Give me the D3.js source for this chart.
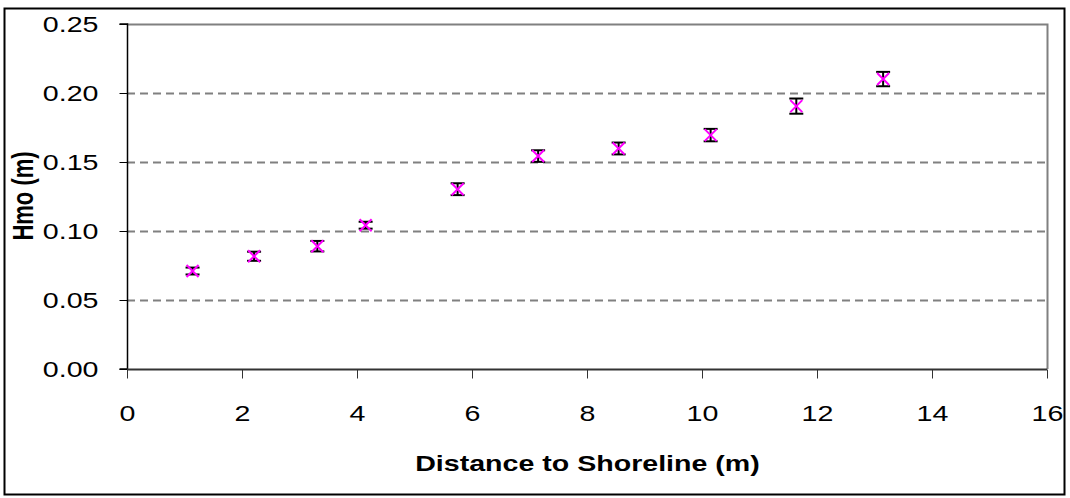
<!DOCTYPE html>
<html>
<head>
<meta charset="utf-8">
<script src="https://cdn.jsdelivr.net/npm/d3@7"></script>
<style>
  html, body { margin: 0; padding: 0; background: #fff; }
  svg { display: block; }
  text { font-family: "Liberation Sans", Arial, sans-serif; fill: #000; }
</style>
</head>
<body>
<svg id="chart" width="1070" height="498"></svg>
<script>
// Data
const distance = [1.14, 2.21, 3.31, 4.15, 5.75, 7.15, 8.55, 10.15, 11.64, 13.15];
const hmo      = [0.071, 0.0817, 0.089, 0.1042, 0.1303, 0.1543, 0.1598, 0.1695, 0.1905, 0.2101];
const hmoErr   = [0.0025, 0.0033, 0.0038, 0.0025, 0.0043, 0.0042, 0.0043, 0.0045, 0.0055, 0.0052];
const xTicks   = [0, 2, 4, 6, 8, 10, 12, 14, 16];
const yTicks   = [0, 0.05, 0.10, 0.15, 0.20, 0.25];
const xTitle = "Distance to Shoreline (m)";
const yTitle = "Hmo (m)";

const svg = d3.select("#chart");
const plot = { left: 127, right: 1047, top: 24, bottom: 369 };
const SX = 1.3;      // horizontal stretch of the text
const FS = 22;

function stretch(sel) {
  sel.each(function () {
    const t = d3.select(this);
    const ax = +t.attr("x") || 0;
    t.attr("transform", `translate(${ax},0) scale(${SX},1) translate(${-ax},0)`);
  });
}

// Outer frame
svg.append("rect").attr("x", 4.5).attr("y", 8.5).attr("width", 1060).attr("height", 486)
  .attr("fill", "#fff").attr("stroke", "#000").attr("stroke-width", 2);

const x = d3.scaleLinear().domain([0, 16]).range([plot.left, plot.right]);
const y = d3.scaleLinear().domain([0, 0.25]).range([plot.bottom, plot.top]);

// Plot area border (gray, top & right)
svg.append("path")
  .attr("d", `M${plot.left},${plot.top + 0.5}H${plot.right + 0.5}V${plot.bottom}`)
  .attr("fill", "none").attr("stroke", "#808080").attr("stroke-width", 2);

// Gridlines
svg.append("g").selectAll("line")
  .data(yTicks.filter(t => t > 0 && t < 0.25))
  .join("line")
  .attr("x1", plot.left).attr("x2", plot.right)
  .attr("y1", d => Math.round(y(d)) + 0.5).attr("y2", d => Math.round(y(d)) + 0.5)
  .attr("stroke", "#808080").attr("stroke-width", 2)
  .attr("stroke-dasharray", "8,5");

// Y axis
const yAxis = d3.axisLeft(y).tickValues(yTicks).tickFormat(d3.format(".2f"))
  .tickSize(8).tickPadding(21);
const gy = svg.append("g").attr("transform", `translate(${plot.left + 0.5},0)`).call(yAxis);
gy.attr("font-family", null).attr("font-size", null);
gy.select(".domain").attr("stroke", "#000").attr("stroke-width", 1.5)
  .attr("d", `M-8,${y(0.25)}H0V${y(0)}H-8`);
gy.selectAll(".tick line").attr("stroke", "#000");
gy.selectAll(".tick text").attr("font-size", FS).call(stretch);

// X axis
const xAxis = d3.axisBottom(x).tickValues(xTicks).tickFormat(d3.format("d"))
  .tickSize(9).tickPadding(30);
const gx = svg.append("g").attr("transform", `translate(0,${plot.bottom + 0.5})`).call(xAxis);
gx.attr("font-family", null).attr("font-size", null);
gx.select(".domain").attr("stroke", "#333").attr("stroke-width", 2)
  .attr("d", `M${plot.left},0H${plot.right}`);
gx.selectAll(".tick line").attr("stroke", "#333");
gx.selectAll(".tick text").attr("font-size", FS).attr("dy", null).attr("y", 51.5).call(stretch);

// Titles
svg.append("text").attr("x", 587.5).attr("y", 471).attr("text-anchor", "middle")
  .attr("font-size", FS).attr("font-weight", "bold").text(xTitle).call(stretch);
svg.append("g").attr("transform", `translate(33,196) scale(${SX},1)`)
  .append("text").attr("transform", "rotate(-90)")
  .attr("text-anchor", "middle").attr("font-size", FS).attr("font-weight", "bold").text(yTitle);

// Data
const pts = distance.map((d, i) => ({ x: d, y: hmo[i], e: hmoErr[i] }));
const gErr = svg.append("g").attr("stroke", "#000").attr("stroke-width", 2).attr("fill", "none");
const cap = 7;
pts.forEach(p => {
  const cx = x(p.x), y1 = y(p.y + p.e), y2 = y(p.y - p.e);
  gErr.append("line").attr("x1", cx).attr("x2", cx).attr("y1", y1).attr("y2", y2);
  gErr.append("line").attr("x1", cx - cap).attr("x2", cx + cap).attr("y1", y1).attr("y2", y1);
  gErr.append("line").attr("x1", cx - cap).attr("x2", cx + cap).attr("y1", y2).attr("y2", y2);
});
const s = 6;
svg.append("g").selectAll("path").data(pts).join("path")
  .attr("d", p => {
    const cx = x(p.x), cy = y(p.y);
    return `M${cx - s},${cy - s}L${cx + s},${cy + s}M${cx - s},${cy + s}L${cx + s},${cy - s}`;
  })
  .attr("stroke", "#FF00FF").attr("stroke-width", 2).attr("fill", "none");
</script>
</body>
</html>
